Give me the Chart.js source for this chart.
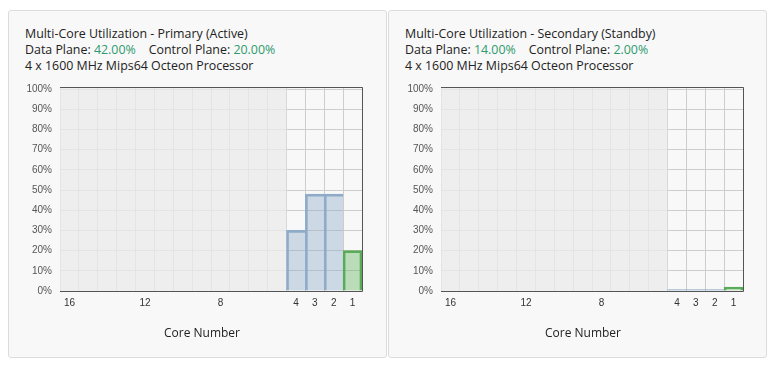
<!DOCTYPE html>
<html>
<head>
<meta charset="utf-8">
<script src="https://cdn.jsdelivr.net/npm/chart.js@4"></script>
<style>
  html, body { margin:0; padding:0; background:#fff; }
  body { width:781px; height:368px; position:relative; overflow:hidden; font-family:"Open Sans", "Noto Sans", sans-serif; }
  .panel { position:absolute; top:10px; width:377px; height:346px; border:1px solid #dcdcdc; border-radius:3px; background:#f8f8f8; }
  .info { position:absolute; top:26px; font-size:12.4px; line-height:16px; color:#222; white-space:pre; }
  .info .g { color:#2e9a6e; }
  .info .cp { margin-left:13px; }
  canvas { position:absolute; top:73px; }
</style>
</head>
<body>
<div class="panel" style="left:8px"></div>
<div class="panel" style="left:388px"></div>
<div class="info" id="info1" style="left:25px"></div>
<div class="info" id="info2" style="left:405px"></div>
<canvas id="c1" width="370" height="272" style="left:10px"></canvas>
<canvas id="c2" width="370" height="272" style="left:391px"></canvas>
<script>
// ---- data ----
const cores = ['16','15','14','13','12','11','10','9','8','7','6','5','4','3','2','1'];
const shownTicks = ['16','12','8','4','3','2','1'];
const installedCores = ['4','3','2','1'];
const yTicks = [0,10,20,30,40,50,60,70,80,90,100];

const panelTitles = ['Multi-Core Utilization - Primary (Active)', 'Multi-Core Utilization - Secondary (Standby)'];
const dataPlanePct = ['42.00%', '14.00%'];
const controlPlanePct = ['20.00%', '2.00%'];
const processorText = '4 x 1600 MHz Mips64 Octeon Processor';
const xTitle = 'Core Number';

const primaryDataPlane     = [null,null,null,null,null,null,null,null,null,null,null,null,30,48,48,null];
const primaryControlPlane  = [null,null,null,null,null,null,null,null,null,null,null,null,null,null,null,20];
const secondaryDataPlane   = [null,null,null,null,null,null,null,null,null,null,null,null,0.7,0.7,0.7,null];
const secondaryControlPlane= [null,null,null,null,null,null,null,null,null,null,null,null,null,null,null,2];

// ---- header text ----
function fillInfo(id, i) {
  const el = document.getElementById(id);
  el.innerHTML = '';
  const l1 = document.createElement('div'); l1.textContent = panelTitles[i];
  const l2 = document.createElement('div');
  l2.append('Data Plane: ');
  const s1 = document.createElement('span'); s1.className = 'g'; s1.textContent = dataPlanePct[i]; l2.append(s1);
  const c = document.createElement('span'); c.className = 'cp'; c.textContent = 'Control Plane: '; l2.append(c);
  const s2 = document.createElement('span'); s2.className = 'g'; s2.textContent = controlPlanePct[i]; l2.append(s2);
  const l3 = document.createElement('div'); l3.textContent = processorText;
  el.append(l1, l2, l3);
}
fillInfo('info1', 0);
fillInfo('info2', 1);

// ---- plugins ----
const shadePlugin = {
  id: 'shadeUnused',
  afterLayout(chart) {
    // centre the axis caption a little left of the plot centre, as in the original
    const tb = chart.titleBlock;
    if (tb) { tb.left = chart.chartArea.left - 18; tb.right = chart.chartArea.right; }
  },
  beforeDatasetsDraw(chart) {
    const {ctx, chartArea, scales:{x}} = chart;
    const firstUsed = cores.indexOf(installedCores[0]);
    const right = (x.getPixelForValue(firstUsed - 1) + x.getPixelForValue(firstUsed)) / 2;
    ctx.save();
    ctx.fillStyle = 'rgba(235,235,235,0.78)';
    ctx.fillRect(chartArea.left, chartArea.top, right - chartArea.left, chartArea.bottom - chartArea.top);
    ctx.restore();
  },
  afterDatasetsDraw(chart) {
    const {ctx, chartArea} = chart;
    const l = Math.round(chartArea.left), r = Math.round(chartArea.right) + 0.5;
    const t = Math.round(chartArea.top) + 0.5, b = Math.round(chartArea.bottom) + 0.5;
    ctx.save();
    ctx.strokeStyle = '#555';
    ctx.lineWidth = 1;
    ctx.beginPath();
    ctx.moveTo(l, t); ctx.lineTo(r, t); ctx.lineTo(r, b); ctx.lineTo(l, b);
    ctx.stroke();
    ctx.restore();
  }
};

const tickFont = { family: '"Liberation Sans", Arial, sans-serif', size: 10 };

function makeChart(id, dataPlane, controlPlane) {
  return new Chart(document.getElementById(id), {
    type: 'bar',
    data: {
      labels: cores,
      datasets: [
        { label: 'Data Plane', data: dataPlane,
          backgroundColor: 'rgba(142,171,200,0.42)', borderColor: '#8eabc8',
          borderWidth: {top:2, left:2, right:0, bottom:0}, borderSkipped: 'start',
          barPercentage: 1, categoryPercentage: 1 },
        { label: 'Control Plane', data: controlPlane,
          backgroundColor: 'rgba(100,180,95,0.42)', borderColor: '#58aa58',
          borderWidth: 2, borderSkipped: 'start',
          barPercentage: 1, categoryPercentage: 1 }
      ]
    },
    options: {
      responsive: false,
      animation: false,
      layout: { padding: { top: 0, right: 18, left: 0, bottom: 0 } },
      plugins: {
        legend: { display: false }, tooltip: { enabled: false },
        title: { display: true, position: 'bottom', text: xTitle, color: '#222',
                 font: { family: '"Open Sans", "Noto Sans", sans-serif', size: 12, weight: 'normal' },
                 padding: { top: 0, bottom: 4 } }
      },
      scales: {
        x: {
          stacked: true,
          grid: { color: '#cdcdcd', drawTicks: false, offset: true },
          border: { display: false },
          ticks: {
            autoSkip: false, maxRotation: 0, padding: 6, color: '#333', font: tickFont,
            callback: (v, i) => shownTicks.includes(cores[i]) ? cores[i] : ''
          },
          afterFit: s => { s.height = 35.6; }
        },
        y: {
          stacked: true, min: 0, max: 101,
          afterBuildTicks: s => { s.ticks = yTicks.map(v => ({ value: v })); },
          grid: { color: '#cdcdcd', drawTicks: false },
          border: { display: false },
          ticks: { padding: 8, color: '#555', font: tickFont, callback: v => v + '%' },
          afterFit: s => { s.width = 50; }
        }
      }
    },
    plugins: [shadePlugin]
  });
}

makeChart('c1', primaryDataPlane, primaryControlPlane);
makeChart('c2', secondaryDataPlane, secondaryControlPlane);
</script>
</body>
</html>
